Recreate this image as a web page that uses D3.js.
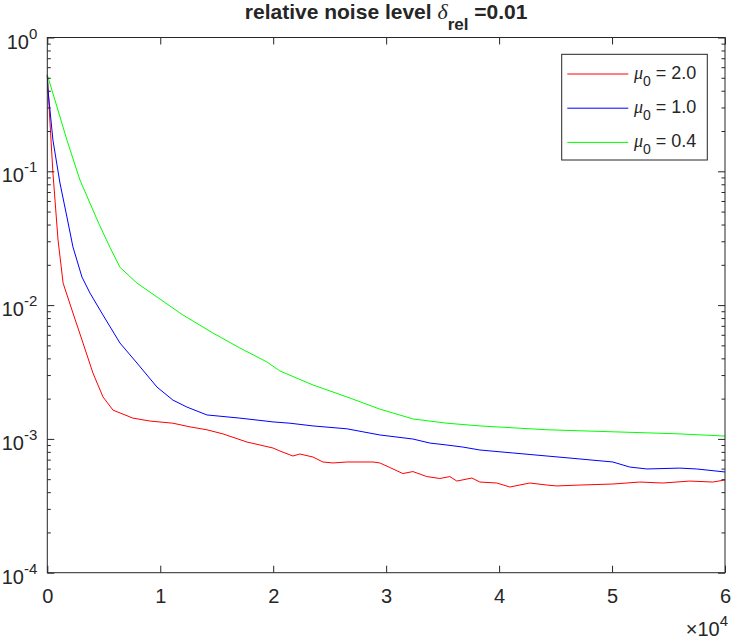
<!DOCTYPE html>
<html lang="en">
<head>
<meta charset="UTF-8">
<title>relative noise level</title>
<script src="https://d3js.org/d3.v7.min.js"></script>
<style>
  body { margin: 0; background: #fff; }
  text { font-family: "Liberation Sans", Arial, sans-serif; fill: #262626; }
</style>
</head>
<body>
<div id="container"></div>
<script>
  // values (iteration, error)
  var iterRed = [0, 240, 500, 950, 1400, 2270, 3160, 4040, 4930, 5820, 7580, 9090, 11120, 12630, 14130, 15550, 17670, 19980, 20590, 21750, 22360, 23520, 24400, 25290, 26520, 28830, 29440, 30330, 31480, 32370, 33600, 34760, 35640, 36260, 37590, 38300, 39800, 40950, 42720, 44230, 45110, 47150, 50070, 52460, 54490, 56880, 58920, 60000];
  var errRed = [0.525, 0.230, 0.097, 0.0307, 0.0146, 0.00873, 0.00521, 0.00311, 0.00206, 0.00164, 0.00143, 0.00136, 0.00131, 0.00123, 0.00117, 0.00109, 0.000948, 0.000855, 0.000812, 0.000745, 0.000771, 0.000732, 0.000672, 0.000661, 0.000672, 0.000672, 0.000661, 0.000611, 0.000551, 0.000570, 0.000523, 0.000506, 0.000523, 0.000484, 0.000510, 0.000476, 0.000468, 0.000437, 0.000468, 0.000452, 0.000445, 0.000452, 0.000460, 0.000476, 0.000468, 0.000484, 0.000476, 0.000493];

  var iterBlue = [0, 60, 500, 1120, 1740, 2270, 3070, 3780, 4930, 6430, 7940, 9710, 11120, 12360, 14130, 17050, 19980, 21480, 23520, 26520, 27940, 29440, 32370, 33870, 35380, 36790, 38300, 41220, 44230, 47150, 50070, 51570, 53080, 56000, 57500, 60000];
  var errBlue = [0.525, 0.405, 0.171, 0.0818, 0.0455, 0.0272, 0.0162, 0.0123, 0.00843, 0.00521, 0.00369, 0.00244, 0.00195, 0.00173, 0.00151, 0.00143, 0.00134, 0.00131, 0.00125, 0.00119, 0.00113, 0.00107, 0.000998, 0.000931, 0.000900, 0.000869, 0.000826, 0.000785, 0.000745, 0.000708, 0.000672, 0.000616, 0.000596, 0.000605, 0.000596, 0.000566];

  var iterGreen = [0, 860, 1740, 2890, 4040, 4660, 5550, 6430, 7940, 9710, 12010, 14660, 17050, 19440, 20590, 23520, 26520, 29440, 32370, 35380, 38300, 41220, 44230, 47150, 50070, 53080, 56000, 60000];
  var errGreen = [0.525, 0.303, 0.171, 0.0861, 0.0514, 0.0390, 0.0270, 0.0192, 0.0146, 0.0115, 0.00843, 0.00619, 0.00478, 0.00376, 0.00322, 0.00253, 0.00206, 0.00167, 0.00141, 0.00131, 0.00125, 0.00121, 0.00117, 0.00115, 0.00113, 0.00111, 0.00109, 0.00105];

  var legendLabels = ["2.0", "1.0", "0.4"];
  var xTickLabels = ["0", "1", "2", "3", "4", "5", "6"];
  var yTickExps = ["0", "-1", "-2", "-3", "-4"];

  var width = 732,
    height = 639,
    margin = { "left": 47.3, "top": 37.5, "right": 7, "bottom": 66.3 },
    font_size = 20;

  var series = [
    { iter: iterRed, err: errRed, color: "#ff0000", label: legendLabels[0] },
    { iter: iterBlue, err: errBlue, color: "#0000ff", label: legendLabels[1] },
    { iter: iterGreen, err: errGreen, color: "#00ff00", label: legendLabels[2] }
  ];

  var svg = d3.select("#container")
    .append("svg")
    .attr("width", width)
    .attr("height", height)

  svg.append("rect").attr("width", width).attr("height", height).attr("fill", "#fff")

  var x = d3.scaleLinear()
    .domain([0, 60000])
    .range([margin.left, width - margin.right])

  var y = d3.scaleLog()
    .domain([1e-4, 1])
    .range([height - margin.bottom, margin.top])

  var xTickVals = xTickLabels.map(function (d) { return +d * 1e4; })
  var yTickVals = yTickExps.map(function (d) { return Math.pow(10, +d); })
  var yMinor = []
  yTickVals.slice(1).forEach(function (v) {
    for (var k = 2; k <= 9; k++) yMinor.push(v * k);
  })

  // curves
  var line = d3.line()
    .x(function (d) { return x(d[0]); })
    .y(function (d) { return y(d[1]); })

  var plot = svg.append("g")
  series.forEach(function (s) {
    plot.append("path")
      .datum(d3.zip(s.iter, s.err))
      .attr("d", line)
      .attr("fill", "none")
      .attr("stroke", s.color)
      .attr("stroke-width", 1)
  })

  // axes (ticks inward, box)
  function styleAxis(g) {
    g.select(".domain").remove();
    g.selectAll("line").attr("stroke", "#262626");
    g.selectAll("text").attr("font-size", font_size).attr("fill", "#262626").attr("font-family", null);
  }

  svg.append("g")
    .attr("transform", "translate(0," + (height - margin.bottom) + ")")
    .call(d3.axisBottom(x).tickValues(xTickVals).tickSize(-7).tickSizeOuter(0).tickPadding(16)
      .tickFormat(function (d, i) { return xTickLabels[i]; }))
    .call(styleAxis)

  svg.append("g")
    .attr("transform", "translate(0," + margin.top + ")")
    .call(d3.axisTop(x).tickValues(xTickVals).tickSize(-7).tickSizeOuter(0).tickFormat(""))
    .call(styleAxis)

  svg.append("g")
    .attr("transform", "translate(" + margin.left + ",0)")
    .call(d3.axisLeft(y).tickValues(yTickVals).tickSize(-7).tickSizeOuter(0).tickFormat(""))
    .call(styleAxis)

  svg.append("g")
    .attr("transform", "translate(" + margin.left + ",0)")
    .call(d3.axisLeft(y).tickValues(yMinor).tickSize(-3.5).tickSizeOuter(0).tickFormat(""))
    .call(styleAxis)

  svg.append("g")
    .attr("transform", "translate(" + (width - margin.right) + ",0)")
    .call(d3.axisRight(y).tickValues(yTickVals).tickSize(-7).tickSizeOuter(0).tickFormat(""))
    .call(styleAxis)

  svg.append("g")
    .attr("transform", "translate(" + (width - margin.right) + ",0)")
    .call(d3.axisRight(y).tickValues(yMinor).tickSize(-3.5).tickSizeOuter(0).tickFormat(""))
    .call(styleAxis)

  svg.append("rect")
    .attr("x", margin.left)
    .attr("y", margin.top)
    .attr("width", width - margin.left - margin.right)
    .attr("height", height - margin.top - margin.bottom)
    .attr("fill", "none")
    .attr("stroke", "#262626")
    .attr("stroke-width", 1)

  // y tick labels 10^n
  var yLab = svg.append("g").selectAll("text")
    .data(yTickExps)
    .enter()
    .append("text")
    .attr("x", margin.left - 10)
    .attr("y", function (d) { return y(Math.pow(10, +d)) + 11; })
    .attr("text-anchor", "end")
    .attr("font-size", font_size)
  yLab.append("tspan").text("10")
  yLab.append("tspan").attr("dy", -10).attr("font-size", 15).text(function (d) { return d; })

  // x exponent
  var xExp = svg.append("text")
    .attr("x", width - 4)
    .attr("y", 636)
    .attr("text-anchor", "end")
    .attr("font-size", font_size)
  xExp.append("tspan").text("\u00d710")
  xExp.append("tspan").attr("dy", -10).attr("font-size", 15).text("4")

  // title
  var title = svg.append("text")
    .attr("x", (margin.left + width - margin.right) / 2)
    .attr("y", 19)
    .attr("text-anchor", "middle")
    .attr("font-size", 21)
    .attr("font-weight", "bold")
  title.append("tspan").text("relative noise level ")
  title.append("tspan").attr("font-style", "italic").attr("font-weight", "normal")
    .attr("font-family", "'Liberation Serif', serif").attr("font-size", 22).text("\u03b4")
  title.append("tspan").attr("dy", 11).attr("font-size", 17).text("rel")
  title.append("tspan").attr("dy", -11).text(" =0.01")

  // legend
  var legend = svg.append("g")
  legend.append("rect")
    .attr("x", 561.7).attr("y", 54.3)
    .attr("width", 145.6).attr("height", 105.7)
    .attr("fill", "#fff")
    .attr("stroke", "#262626")
    .attr("stroke-width", 1)

  var item = legend.selectAll(".item")
    .data(series)
    .enter()
    .append("g")
    .attr("class", "item")
    .attr("transform", function (d, i) { return "translate(0," + (74 + i * 34.2) + ")"; })

  item.append("line")
    .attr("x1", 567.3).attr("x2", 628.3)
    .attr("stroke", function (d) { return d.color; })
    .attr("stroke-width", 1)

  var itemText = item.append("text")
    .attr("x", 634)
    .attr("y", 4.5)
    .attr("font-size", 18)
  itemText.append("tspan").attr("font-style", "italic").attr("font-family", "'Liberation Serif', serif").text("\u03bc")
  itemText.append("tspan").attr("dy", 7).attr("font-size", 14).text("0")
  itemText.append("tspan").attr("dy", -7).text(function (d) { return " = " + d.label; })
</script>
</body>
</html>
